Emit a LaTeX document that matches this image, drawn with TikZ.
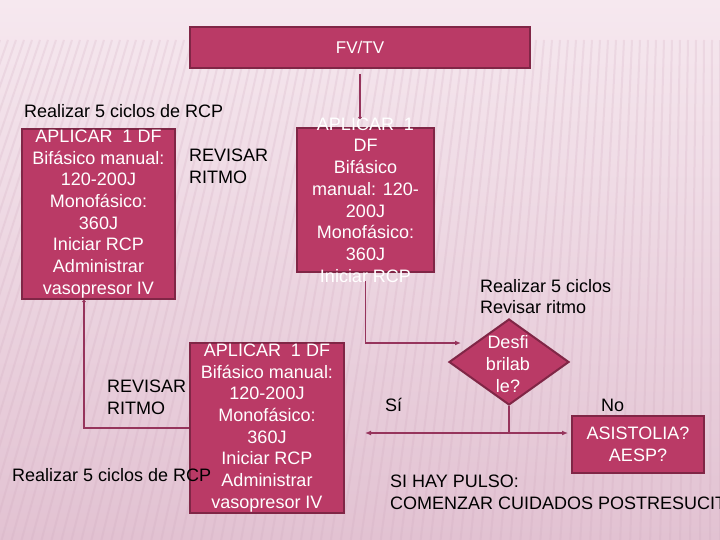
\documentclass[tikz,border=0pt]{standalone}
\usepackage{fontspec}
\setmainfont{Liberation Sans}
\usetikzlibrary{shapes.geometric,arrows.meta,positioning,calc}
\definecolor{acRose}{RGB}{186,58,102}
\definecolor{acRoseDark}{RGB}{128,38,70}
\definecolor{acLink}{RGB}{150,52,92}
\definecolor{acBack}{RGB}{246,232,239}
\definecolor{acBackLow}{RGB}{226,194,210}
\definecolor{acStripe}{RGB}{205,165,186}

\begin{document}
\begin{tikzpicture}[x=1pt,y=-1pt,
    panel/.style={draw=acRoseDark, line width=2pt, fill=acRose, inner sep=0pt},
    inbox/.style={text=white, align=center, inner sep=0pt,
      font=\fontsize{18}{21.7}\selectfont},
    note/.style={text=black, align=left, inner sep=0pt, anchor=west,
      font=\fontsize{18}{21.7}\selectfont},
    link/.style={draw=acLink, line width=1.6pt},
    stripe/.style={draw=acStripe, line width=2pt, opacity=0.2},
    >={Latex[length=6pt,width=5pt]}
  ]
    \useasboundingbox (0,0) rectangle (720,540);
    \clip (0,0) rectangle (720,540);

    % background with stripes
    \shade[top color=acBack, bottom color=acBackLow] (0,0) rectangle (720,540);
    \foreach \sx in {0,8,...,720}{
      \pgfmathsetmacro\bx{\sx-178*(1-\sx/720)}
      \draw[stripe] (\sx,40) -- (\bx,540);
    }

    \node[panel, inbox, minimum width=340, minimum height=41,
      font=\fontsize{17}{20}\selectfont] (fvtv) at (360,47.5) {FV/TV};

    \node[panel, inbox, minimum width=153, minimum height=170] (dfa) at (98.5,214)
      {APLICAR~ 1 DF\\Bifásico manual:\\120-200J\\Monofásico:\\360J\\Iniciar RCP\\Administrar\\vasopresor IV};
    \node[panel, minimum width=137, minimum height=144] (dfb) at (365.5,200) {};
    \node[inbox] (dfbtext) at (dfb.center)
      {APLICAR~ 1\\DF\\Bifásico\\manual: 120-\\200J\\Monofásico:\\360J\\Iniciar RCP};
    \node[panel, inbox, minimum width=154, minimum height=170] (dfc) at (267,428)
      {APLICAR~ 1 DF\\Bifásico manual:\\120-200J\\Monofásico:\\360J\\Iniciar RCP\\Administrar\\vasopresor IV};

    % decision
    \node[diamond, draw=acRoseDark, line width=2pt, fill=acRose, inner sep=0pt,
      minimum width=120, minimum height=86] (dsf) at (509,362) {};
    \node[inbox] (dsftext) at (508,364) {Desfi\\brilab\\le?};
    \node[panel, inbox, minimum width=132, minimum height=57] (asis) at (638,444.5)
      {ASISTOLIA?\\AESP?};

    \node[note] (ciclosa) at (24,111) {Realizar 5 ciclos de RCP};
    \node[note] (revisara) at (189,166.5) {REVISAR\\RITMO};
    \node[note] (ciclosb) at (480,296.5) {Realizar 5 ciclos\\Revisar ritmo};
    \node[note] (revisarb) at (107,397.5) {REVISAR\\RITMO};
    \node[note] (ciclosc) at (12,475) {Realizar 5 ciclos de RCP};
    \node[note] (si) at (385,405) {Sí};
    \node[note] (no) at (601,405) {No};
    \node[note] (pulso) at (390,492.5) {SI HAY PULSO:\\COMENZAR CUIDADOS POSTRESUCITACIÓN};

    \coordinate (dsfin) at (461,343);
    \coordinate (split) at (dsf.south |- 0,433);
    \coordinate (yesend) at (365,433);

    \draw[link, -{Circle[length=3pt]}] ([yshift=-5pt]fvtv.south) -- ([yshift=8pt]fvtv.south |- dfb.north);
    \draw[link, {Circle[length=3pt]}-] ([xshift=-14.5pt]dfa.south) |- (dfc.west);
    \draw[link, ->] ([yshift=-8pt]dfb.south) |- (dsfin);
    \draw[link] (dsf.south) -- (split);
    \draw[link, <->] (yesend) -- ([xshift=-3pt]asis.west |- split);
\end{tikzpicture}
\end{document}
